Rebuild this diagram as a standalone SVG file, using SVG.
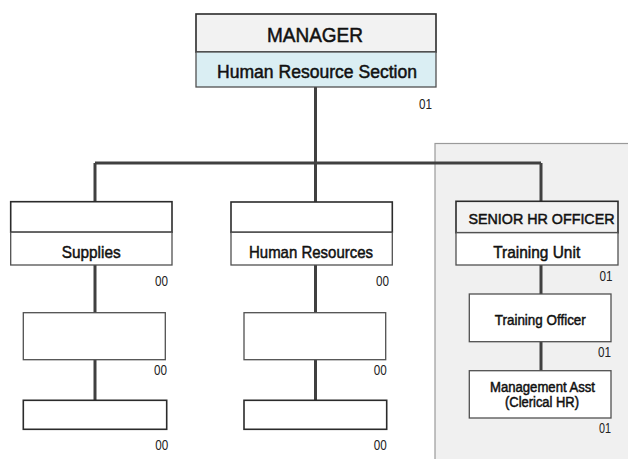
<svg xmlns="http://www.w3.org/2000/svg" width="628" height="459" viewBox="0 0 628 459">
  <style>
    .bg { fill: #ffffff; }
    .panel { fill: #f0f0f0; stroke: #9a9a9a; stroke-width: 1.2; }
    .box { fill: #ffffff; stroke: #2b2b2b; stroke-width: 1.6; }
    .sub { fill: #ffffff; stroke: #505050; stroke-width: 1.3; }
    .head { fill: #f2f2f2; stroke: #2b2b2b; stroke-width: 1.6; }
    .blue { fill: #daeef3; stroke: #505050; stroke-width: 1.3; }
    .wire { fill: none; stroke: #404040; stroke-width: 3; }
    text { font-family: "Liberation Sans", Arial, sans-serif; fill: #111111; }
    .lbl { text-anchor: middle; stroke: #111111; stroke-width: 0.5; }
    .t20 { font-size: 21px; }
    .t18 { font-size: 18px; }
    .t17 { font-size: 17px; }
    .t16 { font-size: 15px; }
    .t15 { font-size: 15px; }
    .t14 { font-size: 14px; }
    .num { font-size: 14px; text-anchor: end; fill: #222222; }
  </style>

  <rect class="bg" x="0" y="0" width="628" height="459"/>

  <!-- shaded area for the training unit -->
  <rect class="panel" x="435" y="143.5" width="200" height="320"/>

  <!-- reporting lines -->
  <g id="connectors">
    <path class="wire" d="M315.5 87 V163"/>
    <path class="wire" d="M95 163 H541"/>
    <path class="wire" d="M95 163 V202"/>
    <path class="wire" d="M315.5 163 V202"/>
    <path class="wire" d="M541 163 V201"/>
    <path class="wire" d="M95 265 V313 M95 360 V400"/>
    <path class="wire" d="M315.5 265 V313 M315.5 360 V400"/>
    <path class="wire" d="M541 265 V294 M541 342 V371"/>
  </g>

  <g id="manager">
    <rect class="head" x="196" y="14" width="240" height="38"/>
    <rect class="blue" x="196" y="52" width="240" height="35"/>
    <text class="lbl t20" x="315" y="42" textLength="96" lengthAdjust="spacingAndGlyphs">MANAGER</text>
    <text class="lbl t18" x="317" y="78" textLength="200" lengthAdjust="spacingAndGlyphs">Human Resource Section</text>
    <text class="num" x="432" y="109" textLength="13" lengthAdjust="spacingAndGlyphs">01</text>
  </g>

  <g id="supplies">
    <rect class="box" x="10.7" y="201.7" width="161.3" height="30.5"/>
    <rect class="sub" x="10.7" y="232.2" width="161.3" height="32.8"/>
    <text class="lbl t17" x="91.2" y="257.5" textLength="59" lengthAdjust="spacingAndGlyphs">Supplies</text>
    <text class="num" x="168" y="286" textLength="13" lengthAdjust="spacingAndGlyphs">00</text>
  </g>

  <g id="supplies-2">
    <rect class="sub" x="23.3" y="312.7" width="142" height="47"/>
    <text class="num" x="167" y="375" textLength="13" lengthAdjust="spacingAndGlyphs">00</text>
  </g>

  <g id="supplies-3">
    <rect class="box" x="23.3" y="400.3" width="143.4" height="29"/>
    <text class="num" x="168.3" y="450" textLength="13" lengthAdjust="spacingAndGlyphs">00</text>
  </g>

  <g id="human-resources">
    <rect class="box" x="231" y="202" width="161.3" height="30.3"/>
    <rect class="sub" x="231" y="232.3" width="161.3" height="32.7"/>
    <text class="lbl t17" x="311" y="258" textLength="124" lengthAdjust="spacingAndGlyphs">Human Resources</text>
    <text class="num" x="389" y="286" textLength="13" lengthAdjust="spacingAndGlyphs">00</text>
  </g>

  <g id="human-resources-2">
    <rect class="sub" x="244" y="312.7" width="141.7" height="47"/>
    <text class="num" x="386.7" y="375" textLength="13" lengthAdjust="spacingAndGlyphs">00</text>
  </g>

  <g id="human-resources-3">
    <rect class="box" x="244" y="400.3" width="142.7" height="29"/>
    <text class="num" x="386.7" y="450" textLength="13" lengthAdjust="spacingAndGlyphs">00</text>
  </g>

  <g id="senior-hr-officer">
    <rect class="head" x="456" y="201.3" width="162" height="31.4"/>
    <rect class="sub" x="456" y="232.7" width="162" height="32.3"/>
    <text class="lbl t16" x="541.5" y="224" textLength="146" lengthAdjust="spacingAndGlyphs">SENIOR HR OFFICER</text>
    <text class="lbl t17" x="536.7" y="257.7" textLength="87" lengthAdjust="spacingAndGlyphs">Training Unit</text>
    <text class="num" x="612.5" y="280.5" textLength="13" lengthAdjust="spacingAndGlyphs">01</text>
  </g>

  <g id="training-officer">
    <rect class="sub" x="469.3" y="294" width="141.7" height="47.7"/>
    <text class="lbl t15" x="540.3" y="325" textLength="91" lengthAdjust="spacingAndGlyphs">Training Officer</text>
    <text class="num" x="611" y="357" textLength="13" lengthAdjust="spacingAndGlyphs">01</text>
  </g>

  <g id="management-asst">
    <rect class="sub" x="469.3" y="370.7" width="141.7" height="47.3"/>
    <text class="lbl t14" x="542.5" y="392.3" textLength="105" lengthAdjust="spacingAndGlyphs">Management Asst</text>
    <text class="lbl t14" x="542" y="407.3" textLength="74" lengthAdjust="spacingAndGlyphs">(Clerical HR)</text>
    <text class="num" x="611" y="433" textLength="12" lengthAdjust="spacingAndGlyphs">01</text>
  </g>
</svg>
